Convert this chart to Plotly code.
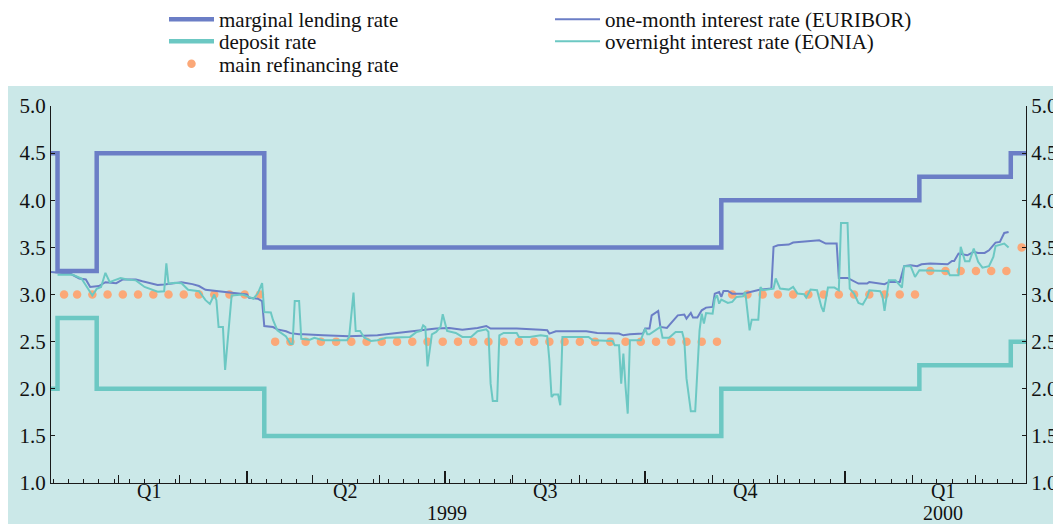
import pandas as pd
import plotly.graph_objects as go

START = pd.Timestamp("1999-01-01")
END = pd.Timestamp("2000-03-24")

# ---- official ECB rates (step changes) ----
corridor_dates = ["1999-01-01", "1999-01-04", "1999-01-22", "1999-04-09",
                  "1999-11-05", "2000-02-04", "2000-03-17", "2000-03-24"]
marginal_lending = [4.50, 3.25, 4.50, 3.50, 4.00, 4.25, 4.50, 4.50]
deposit_rate = [2.00, 2.75, 2.00, 1.50, 2.00, 2.25, 2.50, 2.50]

# ---- main refinancing operations (weekly tenders) ----
mro_dates = ["1999-01-07"] + [d.strftime("%Y-%m-%d") for d in
                              pd.date_range("1999-01-13", "2000-03-22", freq="7D")]
mro_rate = ([3.0] * 14 + [2.5] * 30 + [3.0] * 13 + [3.25] * 6 + [3.5])

# ---- market rates, days since 1 Jan 1999 ----
euribor_day = [0, 9, 13, 16, 18, 22, 25, 30, 33, 39, 42, 49, 52, 60, 65, 68, 71, 76, 84, 90,
               91, 95, 97, 98, 102, 104, 108, 110, 114, 116, 125, 137, 150, 159, 168, 177,
               183, 189, 196, 200, 202, 214, 225, 228, 229, 232, 246, 251, 261, 263, 266,
               272, 273, 275, 276, 278, 279, 280, 283, 284, 286, 288, 291, 292, 294, 295,
               297, 299, 301, 304, 305, 307, 308, 309, 311, 313, 318, 321, 326, 331, 332,
               334, 339, 341, 349, 353, 356, 361, 362, 366, 371, 375, 376, 383, 385, 390,
               392, 395, 398, 400, 404, 412, 414, 415, 417, 421, 424, 426, 429, 431, 434,
               436, 438, 440]
euribor = [3.24, 3.22, 3.17, 3.16, 3.08, 3.09, 3.13, 3.12, 3.16, 3.16, 3.14, 3.10, 3.105,
           3.13, 3.11, 3.09, 3.05, 3.035, 3.015, 3.00, 2.965, 2.955, 2.93, 2.665, 2.655,
           2.63, 2.61, 2.59, 2.578, 2.578, 2.567, 2.557, 2.567, 2.592, 2.62, 2.638, 2.645,
           2.627, 2.645, 2.666, 2.638, 2.638, 2.627, 2.62, 2.585, 2.61, 2.61, 2.592, 2.585,
           2.567, 2.578, 2.585, 2.638, 2.638, 2.779, 2.808, 2.825, 2.656, 2.645, 2.673,
           2.726, 2.779, 2.787, 2.744, 2.804, 2.755, 2.755, 2.832, 2.861, 2.868, 3.009,
           3.027, 2.974, 3.038, 3.038, 3.009, 3.009, 3.027, 3.052, 3.063, 3.505, 3.522,
           3.53, 3.551, 3.565, 3.575, 3.54, 3.54, 3.176, 3.176, 3.116, 3.116, 3.133, 3.109,
           3.133, 3.133, 3.30, 3.31, 3.30, 3.321, 3.328, 3.321, 3.356, 3.356, 3.434, 3.416,
           3.452, 3.441, 3.441, 3.469, 3.551, 3.558, 3.653, 3.664]

eonia_day = [3, 10, 14, 16, 19, 21, 23, 25, 27, 29, 32, 35, 39, 43, 49, 52, 53, 54, 57, 60,
             63, 68, 71, 73, 75, 76, 77, 79, 80, 83, 88, 91, 93, 95, 97, 98, 101, 102, 104,
             108, 110, 111, 112, 114, 115, 119, 121, 125, 136, 137, 139, 140, 142, 144, 147,
             150, 154, 165, 168, 170, 171, 172, 173, 175, 177, 179, 180, 182, 186, 189, 193,
             196, 200, 201, 202, 203, 205, 206, 208, 214, 215, 220, 225, 228, 229, 230, 231,
             233, 234, 235, 243, 247, 249, 258, 259, 261, 262, 263, 264, 265, 266, 271, 272,
             273, 274, 275, 280, 281, 284, 287, 290, 291, 292, 294, 296, 298, 299, 300, 301,
             304, 305, 306, 307, 308, 311, 313, 315, 318, 319, 321, 322, 325, 326, 327, 332,
             333, 335, 339, 341, 343, 346, 347, 349, 352, 354, 355, 357, 360, 362, 363, 366,
             367, 369, 371, 373, 375, 376, 381, 382, 383, 385, 388, 391, 392, 395, 397, 399,
             403, 412, 413, 417, 418, 420, 422, 424, 426, 428, 431, 433, 434, 438, 440]
eonia = [3.21, 3.21, 3.17, 3.10, 2.99, 3.06, 3.08, 3.23, 3.13, 3.15, 3.175, 3.16, 3.15,
         3.08, 3.03, 3.035, 3.33, 3.115, 3.125, 3.12, 3.05, 3.035, 2.94, 2.90, 3.00, 2.94,
         2.655, 2.655, 2.20, 2.99, 3.00, 2.975, 2.955, 3.01, 3.12, 2.815, 2.81, 2.73, 2.62,
         2.555, 2.475, 2.475, 2.93, 2.93, 2.53, 2.52, 2.54, 2.515, 2.515, 2.55, 3.02, 2.613,
         2.613, 2.542, 2.507, 2.514, 2.542, 2.55, 2.603, 2.613, 2.673, 2.656, 2.238, 2.578,
         2.603, 2.656, 2.79, 2.613, 2.592, 2.55, 2.55, 2.61, 2.631, 2.603, 2.054, 1.87,
         1.87, 2.567, 2.592, 2.592, 2.55, 2.55, 2.567, 2.557, 2.302, 1.913, 1.938, 1.938,
         1.825, 2.55, 2.55, 2.55, 2.514, 2.507, 2.461, 2.461, 2.054, 2.373, 2.019, 1.736,
         2.514, 2.514, 2.578, 2.638, 2.578, 2.578, 2.656, 2.542, 2.542, 2.603, 2.603, 2.514,
         2.11, 1.761, 1.761, 2.62, 2.797, 2.691, 2.804, 2.797, 2.956, 2.992, 2.903, 2.946,
         2.91, 2.921, 2.974, 2.981, 3.027, 2.62, 2.733, 2.733, 3.08, 3.045, 3.062, 3.17,
         3.063, 3.052, 3.08, 3.01, 3.002, 2.967, 3.052, 3.045, 2.868, 2.815, 3.073, 3.073,
         3.045, 3.759, 3.759, 3.063, 3.01, 2.911, 2.893, 2.974, 3.045, 3.034, 2.992, 2.826,
         3.151, 3.151, 3.073, 3.30, 3.30, 3.186, 3.257, 3.257, 3.25, 3.204, 3.204, 3.505,
         3.353, 3.353, 3.487, 3.346, 3.285, 3.30, 3.399, 3.515, 3.54, 3.498]

quarter_labels = ["Q1", "Q2", "Q3", "Q4", "Q1"]
quarter_mid = ["1999-02-15", "1999-05-16", "1999-08-16", "1999-11-16", "2000-02-15"]
year_labels = ["1999", "2000"]
year_mid = ["1999-07-02", "2000-02-15"]

BLUE = "#6b7ec6"
TEAL = "#6cc8c3"
ORANGE = "#fba878"
BG = "#cbe8e8"
AX = "#1a1a1a"
FONT = "Liberation Serif"

euribor_dates = START + pd.to_timedelta(euribor_day, unit="D")
eonia_dates = START + pd.to_timedelta(eonia_day, unit="D")

fig = go.Figure()
fig.add_trace(go.Scatter(x=corridor_dates, y=marginal_lending, mode="lines", line_shape="hv",
                         line=dict(color=BLUE, width=4.5), name="marginal lending rate",
                         legend="legend", legendrank=1))
fig.add_trace(go.Scatter(x=corridor_dates, y=deposit_rate, mode="lines", line_shape="hv",
                         line=dict(color=TEAL, width=4.5), name="deposit rate",
                         legend="legend2", legendrank=1))
fig.add_trace(go.Scatter(x=mro_dates, y=mro_rate, mode="markers",
                         marker=dict(color=ORANGE, size=8.5, line=dict(width=0)),
                         name="main refinancing rate", legend="legend3", legendrank=1))
fig.add_trace(go.Scatter(x=euribor_dates, y=euribor, mode="lines",
                         line=dict(color=BLUE, width=2), name="one-month interest rate (EURIBOR)",
                         legend="legend", legendrank=2))
fig.add_trace(go.Scatter(x=eonia_dates, y=eonia, mode="lines",
                         line=dict(color=TEAL, width=2), name="overnight interest rate (EONIA)",
                         legend="legend2", legendrank=2))

# invisible helpers so the extra tick axes are drawn
for xa, ya in [("x2", "y"), ("x3", "y"), ("x", "y2")]:
    fig.add_trace(go.Scatter(x=[START, END], y=[1, 1], xaxis=xa, yaxis=ya, mode="lines",
                             line=dict(width=0.1, color=BG), opacity=0, showlegend=False,
                             hoverinfo="skip"))

xr = [START, END]
weeks = pd.date_range("1999-01-02", END, freq="7D")
months = pd.date_range(START, END, freq="MS")
quarters = pd.date_range(START, END, freq="QS")

common_x = dict(range=xr, showgrid=False, zeroline=False, showticklabels=False,
                ticks="inside", tickcolor=AX)
yfont = dict(family=FONT, size=21, color="#111")
fig.update_layout(
    xaxis=dict(**common_x, tickvals=weeks, ticklen=4, tickwidth=1,
               showline=True, linecolor=AX, linewidth=1.3),
    xaxis2=dict(**common_x, tickvals=months, ticklen=8, tickwidth=1.3,
                overlaying="x", anchor="y", side="bottom", showline=False),
    xaxis3=dict(**common_x, tickvals=quarters, ticklen=12, tickwidth=2,
                overlaying="x", anchor="y", side="bottom", showline=False),
    yaxis=dict(range=[1, 5], dtick=0.5, tickformat=".1f", ticks="inside", ticklen=4,
               tickcolor=AX, showline=True, linecolor=AX, linewidth=1.3, showgrid=False,
               zeroline=False, tickfont=yfont),
    yaxis2=dict(range=[1, 5], dtick=0.5, tickformat=".1f", ticks="inside", ticklen=4,
                tickcolor=AX, showline=True, linecolor=AX, linewidth=1.3, showgrid=False,
                zeroline=False, overlaying="y", side="right", anchor="x", tickfont=yfont),
)

legend_common = dict(orientation="h", xref="paper", yref="paper", x=0.1159, xanchor="left",
                     yanchor="middle", entrywidth=326, itemwidth=45, bgcolor="rgba(0,0,0,0)",
                     font=dict(family=FONT, size=21, color="#111"), tracegroupgap=0)
fig.update_layout(
    legend=dict(**legend_common, y=1.2295),
    legend2=dict(**legend_common, y=1.1711),
    legend3=dict(**legend_common, y=1.1112),
)

annotations = []
for lab, mid in zip(quarter_labels, quarter_mid):
    annotations.append(dict(x=mid, y=-0.0212, xref="x", yref="paper", text=lab,
                            showarrow=False, yanchor="middle",
                            font=dict(family=FONT, size=20, color="#111")))
for lab, mid in zip(year_labels, year_mid):
    annotations.append(dict(x=mid, y=-0.0796, xref="x", yref="paper", text=lab,
                            showarrow=False, yanchor="middle",
                            font=dict(family=FONT, size=20, color="#111")))

# the page adds an 8 px body margin, so the figure is sized to fit the window
fig.update_layout(
    width=1053, height=516,
    margin=dict(l=43, r=35, t=98, b=41, autoexpand=False),
    paper_bgcolor="white", plot_bgcolor=BG,
    font=dict(family=FONT, size=21, color="#111"),
    annotations=annotations,
    shapes=[dict(type="rect", xref="paper", yref="paper", x0=-0.0441, x1=1.037,
                 y0=-0.109, y1=1.053, fillcolor=BG, line=dict(width=0), layer="below")],
    hovermode=False,
)

fig.write_html("out.html")
